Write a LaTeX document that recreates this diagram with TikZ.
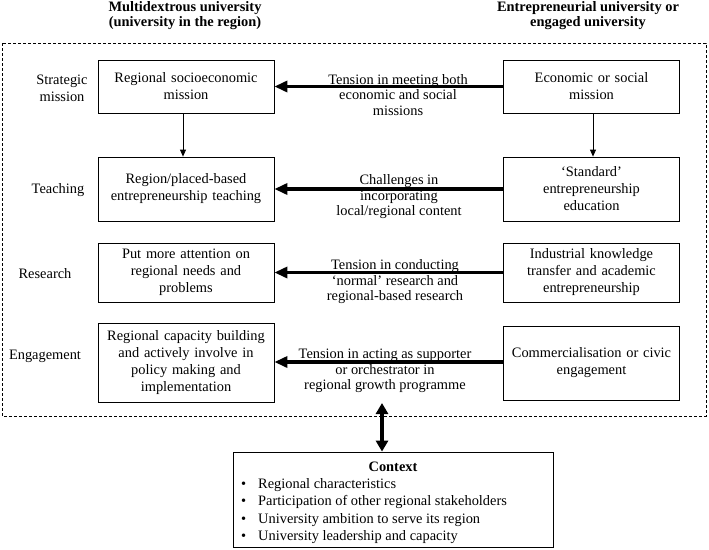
\documentclass[tikz,border=0pt]{standalone}
\usepackage{fontspec}
\setmainfont{Liberation Serif}
\usetikzlibrary{arrows.meta}
\begin{document}
\begin{tikzpicture}[x=1pt,y=-1pt,
  every node/.style={font=\fontsize{14.4}{17}\selectfont},
  box/.style={draw, line width=0.8pt, align=center, text width=168pt, inner xsep=4pt, inner ysep=0pt},
  lbl/.style={align=center, inner sep=0pt, font=\fontsize{14.4}{15.5}\selectfont},
  side/.style={align=center, inner sep=0pt},
  title/.style={align=center, inner sep=0pt, font=\fontsize{14.4}{15}\selectfont\bfseries},
  thick arrow/.style={line width=3.6pt, -{Triangle[length=13pt,width=11pt]}},
  thin arrow/.style={line width=0.8pt, -{Triangle[length=7pt,width=6pt]}},
  dbl arrow/.style={line width=3.6pt, {Triangle[length=11pt,width=12pt]}-{Triangle[length=11pt,width=12pt]}}
]
\useasboundingbox (0,0) rectangle (709,549);

% titles
\node[title] (t1) at (185,15.5) {Multidextrous university\\(university in the region)};
\node[title] (t2) at (588,15.5) {Entrepreneurial university or\\engaged university};

% dashed frame
\draw[dashed, line width=0.7pt, dash pattern=on 3pt off 2pt] (2,43) rectangle (706,416);

% side labels
\node[side] (s1) at (62,88.5) {Strategic\\mission};
\node[side] (s2) at (58,190) {Teaching};
\node[side] (s3) at (45,274) {Research};
\node[side] (s4) at (45,356) {Engagement};

% left boxes
\node[box, minimum height=53pt] (l1) at (186,86.5) {Regional socioeconomic\\mission};
\node[box, minimum height=64pt] (l2) at (186,189) {Region/placed-based\\entrepreneurship teaching};
\node[box, minimum height=59pt] (l3) at (186,272.5) {Put more attention on\\regional needs and\\problems};
\node[box, minimum height=79pt] (l4) at (186,362.5) {Regional capacity building\\and actively involve in\\policy making and\\implementation};

% right boxes
\node[box, minimum height=53pt] (r1) at (591.5,86.5) {Economic or social\\mission};
\node[box, minimum height=64pt] (r2) at (591.5,189) {‘Standard’\\entrepreneurship\\education};
\node[box, minimum height=59pt] (r3) at (591.5,272.5) {Industrial knowledge\\transfer and academic\\entrepreneurship};
\node[box, minimum height=74pt] (r4) at (591.5,363) {Commercialisation or civic\\engagement};

% arrow labels
\node[lbl] (a1) at (398,95) {Tension in meeting both\\economic and social\\missions};
\node[lbl] (a2) at (399,197) {Challenges in\\incorporating\\local/regional content};
\node[lbl] (a3) at (395,282) {Tension in conducting\\‘normal’ research and\\regional-based research};
\node[lbl] (a4) at (385,371) {Tension in acting as supporter\\or orchestrator in\\regional growth programme};

% horizontal thick arrows
\draw[thick arrow] (r1.west) -- (l1.east);
\draw[thick arrow] (r2.west) -- (l2.east);
\draw[thick arrow] (r3.west) -- (l3.east);
\draw[thick arrow] (r4.west |- 0,362) -- (l4.east |- 0,362);

% thin down arrows
\draw[thin arrow] (l1.south -| 183,0) -- (l2.north -| 183,0);
\draw[thin arrow] (r1.south -| 593,0) -- (r2.north -| 593,0);

% context box
\node[draw, line width=0.8pt, minimum width=320pt, minimum height=95pt, inner sep=0pt] (ctx) at (393,499.5) {};
\node[inner sep=0pt, font=\fontsize{14.4}{17}\selectfont\bfseries] (ct) at (393,467) {Context};
\node[inner sep=0pt, anchor=base west] (b1) at (241,488) {•};
\node[inner sep=0pt, anchor=base west] (i1) at (258,488) {Regional characteristics};
\node[inner sep=0pt, anchor=base west] (b2) at (241,505.5) {•};
\node[inner sep=0pt, anchor=base west] (i2) at (258,505.5) {Participation of other regional stakeholders};
\node[inner sep=0pt, anchor=base west] (b3) at (241,523) {•};
\node[inner sep=0pt, anchor=base west] (i3) at (258,523) {University ambition to serve its region};
\node[inner sep=0pt, anchor=base west] (b4) at (241,540.5) {•};
\node[inner sep=0pt, anchor=base west] (i4) at (258,540.5) {University leadership and capacity};

% double arrow
\coordinate (dtop) at (382,403);
\draw[dbl arrow] (dtop) -- (dtop |- ctx.north);
\end{tikzpicture}
\end{document}
